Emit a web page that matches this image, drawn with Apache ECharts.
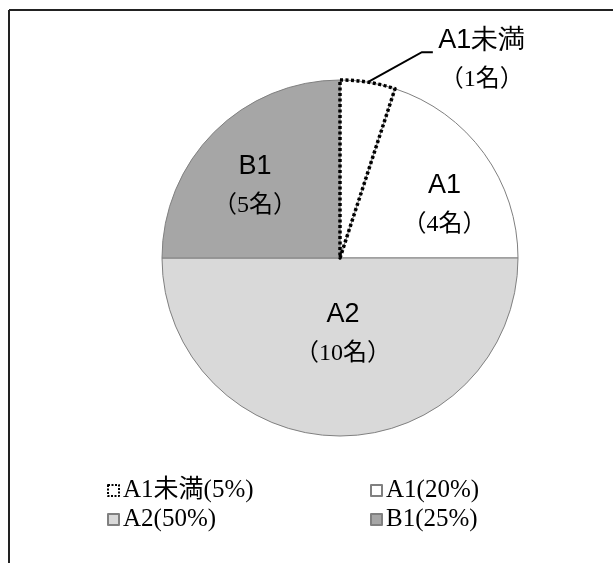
<!DOCTYPE html>
<html>
<head>
<meta charset="utf-8">
<script src="https://cdn.jsdelivr.net/npm/echarts@6/dist/echarts.min.js"></script>
<style>
  html, body { margin: 0; padding: 0; background: #fff; }
  #pie { width: 613px; height: 563px; }
</style>
</head>
<body>
<div id="pie"></div>
<script>
// データ
var levels = ['A1未満', 'A1', 'A2', 'B1'];
var counts = [1, 4, 10, 5];
var fills = ['#ffffff', '#ffffff', '#d9d9d9', '#a6a6a6'];

var total = counts.reduce(function (s, v) { return s + v; }, 0);

// ラベルの位置調整（dx, dy）
var labelShift = [[0, 0], [30, 1], [3, -16], [-20, -7]];

var sansFont = '"Liberation Sans", Arial, sans-serif';
var serifFont = '"Liberation Serif", "Noto Sans CJK JP", serif';

var mainData = levels.map(function (name, i) {
    return {
        name: name,
        value: counts[i],
        itemStyle: { color: fills[i] },
        label: { show: i > 0 }
    };
});

// A1未満の点線枠は上に重ねて描く
var overlayData = levels.map(function (name, i) {
    if (i == 0) {
        return {
            name: name,
            value: counts[i],
            itemStyle: {
                color: 'rgba(0,0,0,0)',
                borderColor: '#000',
                borderWidth: 3.5,
                borderType: [3, 2.5]
            },
            label: { show: true },
            labelLine: { show: true }
        };
    }
    return {
        name: name,
        value: counts[i],
        itemStyle: { color: 'rgba(0,0,0,0)', borderWidth: 0 },
        label: { show: false },
        labelLine: { show: false }
    };
});

var richLabel = {
    n: { fontFamily: sansFont, fontSize: 27, color: '#000', lineHeight: 39 },
    v: { fontFamily: serifFont, fontSize: 24, color: '#000', lineHeight: 39 }
};

function legendText(name) {
    var i = levels.indexOf(name);
    return name + '(' + Math.round(counts[i] / total * 100) + '%)';
}

function legendItem(name) {
    var item = { name: name, icon: 'rect' };
    if (name == 'A1未満') {
        item.itemStyle = { color: '#fff', borderColor: '#000', borderWidth: 2, borderType: [2, 1.5] };
    }
    return item;
}

var legendBase = {
    orient: 'vertical',
    selectedMode: false,
    padding: 0,
    itemWidth: 11,
    itemHeight: 11,
    itemGap: 4,
    formatter: legendText,
    textStyle: { fontFamily: serifFont, fontSize: 25, lineHeight: 25, color: '#000', padding: [0, 0, 0, -1] }
};

var option = {
    animation: false,
    backgroundColor: '#fff',
    graphic: [
        { type: 'line', shape: { x1: 9, y1: 10, x2: 613, y2: 10 }, style: { stroke: '#222', lineWidth: 2 } },
        { type: 'line', shape: { x1: 9, y1: 10, x2: 9, y2: 563 }, style: { stroke: '#222', lineWidth: 2 } }
    ],
    legend: [
        Object.assign({}, legendBase, { left: 107, top: 478, data: [legendItem(levels[0]), legendItem(levels[2])] }),
        Object.assign({}, legendBase, { left: 370, top: 478, data: [legendItem(levels[1]), legendItem(levels[3])] })
    ],
    series: [
        {
            type: 'pie',
            center: [340, 258],
            radius: [0, 178],
            startAngle: 90,
            clockwise: true,
            silent: true,
            emphasis: { disabled: true },
            itemStyle: { borderColor: '#808080', borderWidth: 1 },
            label: {
                position: 'inner',
                formatter: '{n|{b}}\n{v|（{c}名）}',
                rich: richLabel
            },
            labelLine: { show: false },
            labelLayout: function (params) {
                var s = labelShift[params.dataIndex];
                return { dx: s[0], dy: s[1] };
            },
            data: mainData
        },
        {
            type: 'pie',
            center: [340, 258],
            radius: [0, 178],
            startAngle: 90,
            clockwise: true,
            silent: true,
            emphasis: { disabled: true },
            label: {
                position: 'outside',
                align: 'center',
                formatter: '{n|{b}}\n{v|（{c}名）}',
                rich: richLabel
            },
            labelLine: { lineStyle: { color: '#000', width: 2 } },
            labelLayout: function (params) {
                var p0 = params.labelLinePoints ? params.labelLinePoints[0] : [368, 82];
                return {
                    x: p0[0] + 114,
                    y: p0[1] - 61,
                    align: 'center',
                    verticalAlign: 'top',
                    labelLinePoints: [p0, [p0[0] + 54, p0[1] - 30], [p0[0] + 65, p0[1] - 30]]
                };
            },
            data: overlayData
        }
    ]
};

var pieChart = echarts.init(document.getElementById('pie'));
pieChart.setOption(option);
</script>
</body>
</html>
